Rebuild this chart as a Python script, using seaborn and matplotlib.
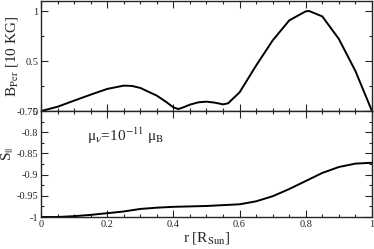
import matplotlib
matplotlib.use("Agg")
import matplotlib.pyplot as plt
import seaborn as sns
import pandas as pd
from matplotlib.ticker import MultipleLocator

# Data
r_top = [0.0, 0.05, 0.1, 0.15, 0.2, 0.25, 0.275, 0.3, 0.35, 0.38, 0.4, 0.415, 0.43,
         0.45, 0.475, 0.5, 0.525, 0.55, 0.565, 0.6, 0.65, 0.7, 0.75, 0.8, 0.81,
         0.85, 0.9, 0.95, 1.0]
b_per = [0.0, 0.043, 0.104, 0.164, 0.221, 0.254, 0.251, 0.231, 0.154, 0.087, 0.037,
         0.02, 0.037, 0.064, 0.087, 0.094, 0.084, 0.067, 0.077, 0.187, 0.455, 0.706,
         0.906, 0.997, 1.0, 0.946, 0.72, 0.40, 0.0]

r_bot = [0.0, 0.05, 0.1, 0.15, 0.2, 0.25, 0.3, 0.35, 0.4, 0.45, 0.5, 0.55, 0.6,
         0.65, 0.7, 0.75, 0.8, 0.85, 0.9, 0.95, 1.0]
s_par = [-1.0, -1.0, -0.998, -0.995, -0.991, -0.987, -0.981, -0.978, -0.976, -0.975,
         -0.974, -0.972, -0.970, -0.963, -0.951, -0.934, -0.915, -0.896, -0.882,
         -0.874, -0.872]

x_ticks = [0, 0.2, 0.4, 0.6, 0.8, 1]
x_ticklabels = ["0", "0.2", "0.4", "0.6", "0.8", "1"]
top_yticks = [0, 0.5, 1]
top_yticklabels = ["0", "0.5", "1"]
bot_yticks = [-1, -0.95, -0.9, -0.85, -0.8, -0.75]
bot_yticklabels = ["-1", "-0.95", "-0.9", "-0.85", "-0.8", "-0.75"]

sns.set_style("ticks")
plt.rcParams['font.family'] = ['Liberation Serif', 'DejaVu Serif']
plt.rcParams['mathtext.fontset'] = 'stix'

fig = plt.figure(figsize=(3.74, 2.49), dpi=100)
ax1 = fig.add_axes([0.1096, 0.554, 0.885, 0.442])
ax2 = fig.add_axes([0.1096, 0.1285, 0.885, 0.4255])

df1 = pd.DataFrame({"r": r_top, "B": b_per})
df2 = pd.DataFrame({"r": r_bot, "S": s_par})
sns.lineplot(data=df1, x="r", y="B", ax=ax1, color="black", linewidth=1.4, sort=False)
sns.lineplot(data=df2, x="r", y="S", ax=ax2, color="black", linewidth=1.4, sort=False)

for ax in (ax1, ax2):
    ax.set_xlim(0, 1)
    ax.xaxis.set_minor_locator(MultipleLocator(0.05))
    ax.set_xticks(x_ticks)
    ax.tick_params(which='both', direction='in', top=True, right=True, labelsize=7.5,
                   width=0.8, pad=2)
    ax.tick_params(which='major', length=5)
    ax.tick_params(which='minor', length=2.5)
    for s in ax.spines.values():
        s.set_linewidth(1.0)

ax1.set_ylim(0, 1.1)
ax1.set_yticks(top_yticks)
ax1.set_yticklabels(top_yticklabels)
ax1.yaxis.set_minor_locator(MultipleLocator(0.25))
ax1.set_xticklabels([])
ax1.set_xlabel("")
ax1.set_ylabel(r"B$_{\mathrm{Per}}$ [10 KG]", fontsize=11)
ax1.yaxis.set_label_coords(-0.062, 0.5)

ax2.set_ylim(-1, -0.75)
ax2.set_yticks(bot_yticks)
ax2.set_yticklabels(bot_yticklabels)
ax2.yaxis.set_minor_locator(MultipleLocator(0.025))
ax2.set_xticklabels(x_ticklabels)
ax2.set_xlabel(r"r [R$_{\mathrm{Sun}}$]", fontsize=11, labelpad=1)
ax2.set_ylabel(r"S$_{||}$", fontsize=11)
ax2.yaxis.set_label_coords(-0.074, 0.6)
ax2.text(0.14, -0.82, r"μ$_{\mathrm{ν}}$=10$^{-11}$ μ$_{\mathrm{B}}$", fontsize=11)

fig.savefig("out.png", dpi=100)
